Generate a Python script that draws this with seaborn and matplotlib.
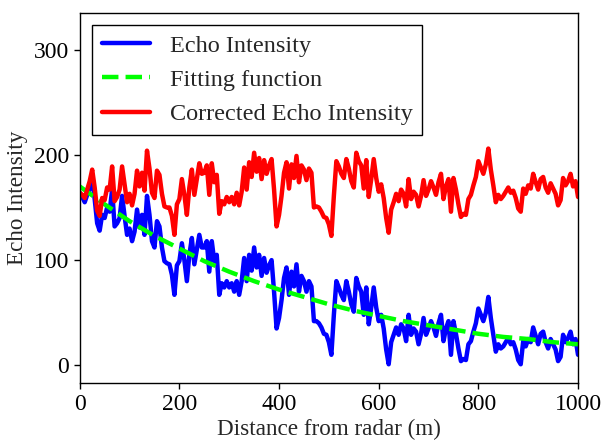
import numpy as np
import matplotlib
matplotlib.use("Agg")
import matplotlib.pyplot as plt
import pandas as pd
import seaborn as sns

# distance from radar, every 5 m
distanza = np.arange(0, 1001, 5)

# raw echo intensity
eco = [164, 160, 155, 162, 168, 177, 158, 135, 128, 143, 140,
       150, 146, 167, 132, 135, 140, 161, 142, 124, 130,
       118, 127, 148, 131, 143, 124, 161, 143, 118, 112,
       137, 132, 112, 99, 97, 96, 86, 67, 95, 99,
       116, 100, 80, 105, 121, 96, 110, 124, 112, 112,
       118, 89, 118, 99, 105, 67, 78, 74, 80, 74,
       78, 70, 80, 67, 80, 102, 80, 105, 90, 112,
       93, 105, 85, 102, 88, 95, 100, 70, 35, 45,
       62, 83, 93, 67, 89, 75, 96, 70, 85, 80,
       70, 80, 75, 42, 42, 40, 36, 30, 29, 22,
       10, 48, 80, 74, 67, 62, 80, 70, 58, 51,
       83, 75, 70, 48, 74, 39, 55, 74, 55, 42,
       48, 35, 15, 1, 22, 29, 36, 29, 39, 35,
       23, 48, 29, 35, 32, 20, 30, 45, 29, 35,
       42, 36, 28, 40, 48, 23, 35, 42, 10, 42,
       30, 16, 4, 6, 5, 20, 23, 32, 40, 54,
       48, 42, 50, 65, 45, 29, 13, 20, 16, 18,
       22, 26, 20, 22, 15, 5, 1, 23, 18, 25,
       22, 36, 28, 20, 30, 32, 22, 16, 25, 20,
       15, 4, 8, 29, 22, 26, 32, 20, 25, 10]

# corrected echo intensity
corretto = [164, 162, 159, 167, 175, 186, 169, 147, 142, 159, 157,
            169, 167, 189, 156, 160, 167, 189, 172, 155, 163,
            152, 163, 185, 170, 183, 166, 204, 187, 164, 159,
            185, 181, 163, 151, 150, 150, 142, 124, 153, 158,
            177, 162, 143, 169, 186, 162, 177, 192, 182, 183,
            190, 162, 192, 174, 181, 144, 156, 153, 160, 155,
            160, 153, 164, 152, 165, 188, 167, 193, 179, 202,
            184, 197, 177, 195, 182, 190, 196, 167, 132, 143,
            161, 183, 193, 168, 191, 178, 199, 174, 190, 186,
            176, 187, 183, 150, 151, 150, 146, 141, 140, 134,
            123, 161, 194, 189, 182, 178, 196, 187, 175, 169,
            202, 194, 190, 168, 195, 160, 177, 196, 178, 165,
            172, 159, 140, 126, 148, 155, 163, 156, 167, 163,
            151, 177, 158, 165, 162, 151, 161, 176, 161, 167,
            175, 169, 162, 174, 182, 158, 170, 177, 146, 178,
            167, 153, 141, 144, 143, 158, 162, 171, 179, 194,
            188, 182, 191, 206, 186, 171, 155, 162, 158, 161,
            165, 169, 164, 166, 159, 149, 146, 168, 163, 171,
            168, 182, 174, 167, 177, 179, 169, 164, 173, 168,
            163, 152, 157, 178, 171, 175, 182, 170, 175, 160]

# fitting function, every 50 m
distanza_fit = np.arange(0, 1001, 50)
fit = [170, 153, 137, 123, 111, 99, 89, 80, 72, 65, 58,
       52, 47, 42, 38, 34, 30, 27, 25, 22, 20]

df = pd.DataFrame({'Distanza': distanza, 'Eco': eco, 'Corretto': corretto})
df_fit = pd.DataFrame({'Distanza': distanza_fit, 'Fit': fit})

sns.set_style("ticks")
plt.rcParams['font.family'] = ['Liberation Serif', 'DejaVu Serif']

fig = plt.figure(figsize=(6.04, 4.42), dpi=100)
ax = fig.add_axes([0.132, 0.133, 0.825, 0.838])

sns.lineplot(data=df, x='Distanza', y='Eco', color='#0000ff', linewidth=3.2,
             label='Echo Intensity', ax=ax)
sns.lineplot(data=df_fit, x='Distanza', y='Fit', color='#00ff00', linewidth=3.2,
             linestyle='--', label='Fitting function', ax=ax)
sns.lineplot(data=df, x='Distanza', y='Corretto', color='#ff0000', linewidth=3.2,
             label='Corrected Echo Intensity', ax=ax)

ax.set_xlim(0, 1000)
ax.set_ylim(-17, 335)
ax.set_xticks([0, 200, 400, 600, 800, 1000])
ax.set_yticks([0, 100, 200, 300])
ax.tick_params(labelsize=17, direction='out', length=4, width=1, colors='black')
for s in ax.spines.values():
    s.set_color('black')
    s.set_linewidth(1)
ax.set_xlabel('Distance from radar (m)', fontsize=16.7, labelpad=3)
ax.set_ylabel('Echo Intensity', fontsize=16.7, labelpad=4)

leg = ax.legend(loc='upper left', fontsize=17.5, fancybox=False, framealpha=1,
                edgecolor='black', borderaxespad=0.5)
leg.get_frame().set_linewidth(1)

fig.savefig('out.png', dpi=100)
